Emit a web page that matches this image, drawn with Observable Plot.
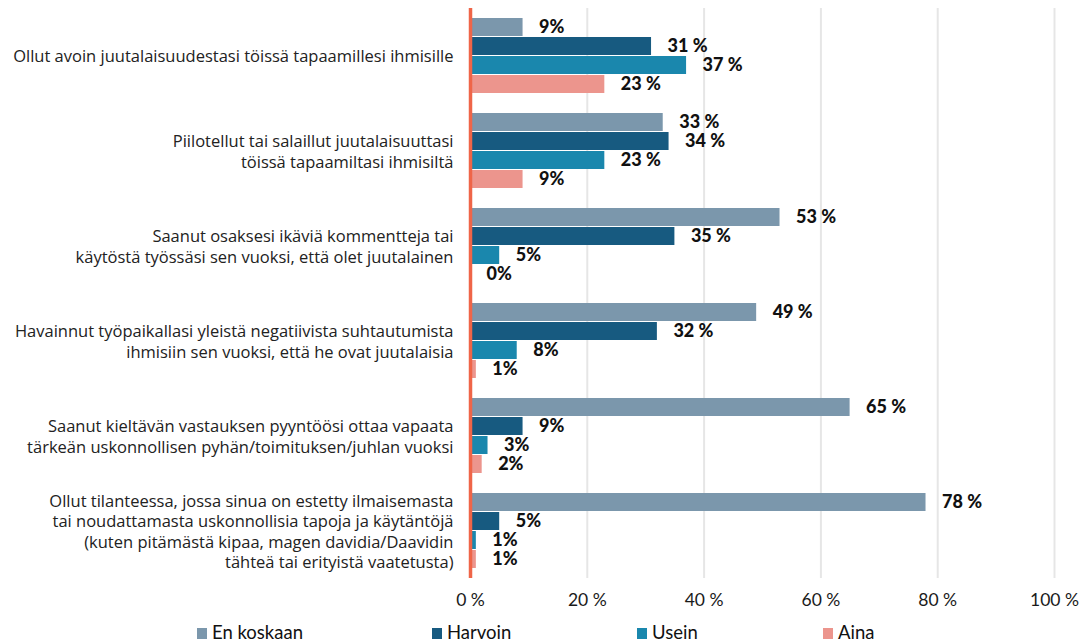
<!DOCTYPE html>
<html>
<head>
<meta charset="utf-8">
<script src="https://cdn.jsdelivr.net/npm/d3@7"></script>
<script src="https://cdn.jsdelivr.net/npm/@observablehq/plot@0.6"></script>
<style>
  html, body { margin: 0; padding: 0; background: #fff; }
  #wrap { width: 1089px; height: 644px; position: relative; font-family: Lato, "Noto Sans", sans-serif; }
  #legend { position: relative; height: 30px; font-size: 18.5px; color: #111; }
  #legend .item { position: absolute; top: 8px; display: flex; align-items: center; line-height: 20px; }
  #legend .sw { width: 10px; height: 11px; margin-right: 5px; margin-top: 3px; }
</style>
</head>
<body>
<div id="wrap">
  <div id="chart"></div>
  <div id="legend"></div>
</div>
<script>
const categories = [
  "Ollut avoin juutalaisuudestasi töissä tapaamillesi ihmisille",
  "Piilotellut tai salaillut juutalaisuuttasi\ntöissä tapaamiltasi ihmisiltä",
  "Saanut osaksesi ikäviä kommentteja tai\nkäytöstä työssäsi sen vuoksi, että olet juutalainen",
  "Havainnut työpaikallasi yleistä negatiivista suhtautumista\nihmisiin sen vuoksi, että he ovat juutalaisia",
  "Saanut kieltävän vastauksen pyyntöösi ottaa vapaata\ntärkeän uskonnollisen pyhän/toimituksen/juhlan vuoksi",
  "Ollut tilanteessa, jossa sinua on estetty ilmaisemasta\ntai noudattamasta uskonnollisia tapoja ja käytäntöjä\n(kuten pitämästä kipaa, magen davidia/Daavidin\ntähteä tai erityistä vaatetusta)"
];
const series = ["En koskaan", "Harvoin", "Usein", "Aina"];
const enKoskaan = [9, 33, 53, 49, 65, 78];
const harvoin   = [31, 34, 35, 32, 9, 5];
const usein     = [37, 23, 5, 8, 3, 1];
const aina      = [23, 9, 0, 1, 2, 1];
const colors = ["#7b97ac", "#175a80", "#1a87ad", "#ec958d"];
const xTicks = [0, 20, 40, 60, 80, 100];
const legendLeft = [197, 432, 637, 823];

const seriesValues = [enKoskaan, harvoin, usein, aina];
const data = categories.flatMap((c, i) =>
  seriesValues.map((arr, j) => ({category: c, series: series[j], value: arr[i]}))
);

const fmt = v => v < 10 ? `${v}%` : `${v} %`;

const chart = Plot.plot({
  width: 1089,
  height: 614,
  marginLeft: 470,
  marginRight: 35,
  marginTop: 8,
  marginBottom: 36,
  style: {fontFamily: "Lato, 'Noto Sans', sans-serif", background: "#fff"},
  x: {domain: [0, 100]},
  y: {domain: series, paddingInner: 0.05, paddingOuter: 0.525, axis: null},
  fy: {domain: categories, padding: 0},
  color: {domain: series, range: colors},
  marks: [
    Plot.ruleX(xTicks.filter(d => d > 0), {stroke: "#e6e6e6", strokeWidth: 2}),
    Plot.barX(data, {x: "value", y: "series", fy: "category", fill: "series"}),
    Plot.text(data, {
      x: "value", y: "series", fy: "category",
      text: d => fmt(d.value),
      dx: 16, textAnchor: "start",
      fontSize: 18, fontWeight: 900, fill: "#111"
    }),
    Plot.ruleX([0], {stroke: "#ef6548", strokeWidth: 3.5}),
    Plot.axisX({
      ticks: xTicks, tickFormat: d => `${d} %`, tickSize: 0, tickPadding: 15,
      fontSize: 17.5, label: null, fill: "#1a1a1a"
    }),
    Plot.axisFy({
      anchor: "left", tickSize: 0, tickPadding: 17, fontSize: 16.5,
      fontFamily: "'Open Sans', 'Noto Sans', sans-serif",
      lineHeight: 1.22, label: null, fill: "#222"
    })
  ]
});
document.getElementById("chart").appendChild(chart);

const legend = document.getElementById("legend");
series.forEach((s, i) => {
  const item = document.createElement("div");
  item.className = "item";
  item.style.left = legendLeft[i] + "px";
  const sw = document.createElement("span");
  sw.className = "sw";
  sw.style.background = colors[i];
  const t = document.createElement("span");
  t.textContent = s;
  item.appendChild(sw);
  item.appendChild(t);
  legend.appendChild(item);
});
</script>
</body>
</html>
